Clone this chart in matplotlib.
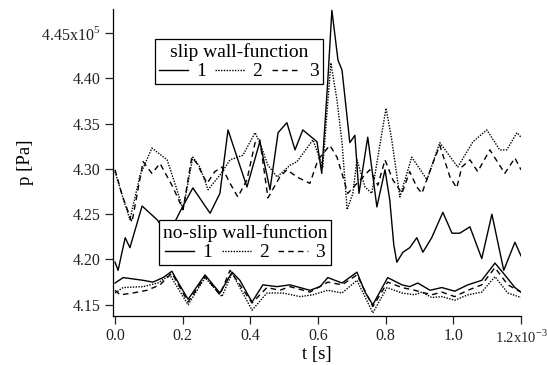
import matplotlib
matplotlib.use('Agg')
import matplotlib.pyplot as plt
from matplotlib.ticker import FixedLocator, FuncFormatter
from matplotlib.lines import Line2D

plt.rcParams['font.family'] = ['Liberation Serif', 'DejaVu Serif']
plt.rcParams['mathtext.fontset'] = 'custom'
plt.rcParams['mathtext.rm'] = 'Liberation Serif'

# time in ms (axis shows x10^-3 s), pressure in 1e5 Pa
t_slip1 = [0, .009, .030, .044, .080, .124, .157, .198, .230, .281, .310, .334, .390, .428,
           .458, .482, .508, .532, .555, .597, .611, .629, .641, .659, .671, .694, .709, .721,
           .747, .774, .798, .812, .824, .833, .851, .871, .892, .910, .936, .969, .996,
           1.019, 1.049, 1.084, 1.114, 1.149, 1.182, 1.2]
p_slip1 = [4.197, 4.188, 4.224, 4.213, 4.259, 4.244, 4.227, 4.257, 4.279, 4.251, 4.273, 4.343,
           4.280, 4.330, 4.277, 4.340, 4.351, 4.321, 4.343, 4.330, 4.295, 4.398, 4.475, 4.420,
           4.409, 4.329, 4.337, 4.273, 4.335, 4.258, 4.299, 4.266, 4.216, 4.197, 4.208, 4.213,
           4.224, 4.208, 4.224, 4.252, 4.229, 4.229, 4.236, 4.201, 4.250, 4.188, 4.219, 4.204]

t_slip2 = [0, .021, .044, .074, .109, .154, .183, .201, .230, .251, .275, .310, .340, .378,
           .414, .428, .452, .479, .517, .538, .585, .614, .638, .656, .671, .686, .703, .715,
           .739, .759, .801, .818, .842, .877, .922, .960, 1.013, 1.058, 1.099, 1.137, 1.158,
           1.188, 1.2]
p_slip2 = [4.297, 4.271, 4.244, 4.293, 4.323, 4.310, 4.277, 4.255, 4.313, 4.302, 4.277, 4.293,
           4.310, 4.315, 4.340, 4.329, 4.304, 4.291, 4.304, 4.308, 4.332, 4.302, 4.417, 4.376,
           4.329, 4.255, 4.273, 4.310, 4.280, 4.273, 4.367, 4.332, 4.269, 4.313, 4.288, 4.329,
           4.302, 4.330, 4.343, 4.321, 4.321, 4.340, 4.335]

t_slip3 = [0, .021, .050, .083, .109, .133, .171, .201, .227, .242, .272, .295, .316, .340,
           .363, .390, .414, .428, .452, .487, .508, .538, .576, .600, .635, .656, .674, .688,
           .715, .753, .777, .798, .821, .848, .871, .892, .907, .939, .960, .990, 1.010,
           1.025, 1.049, 1.072, 1.108, 1.152, 1.182, 1.2]
p_slip3 = [4.299, 4.271, 4.241, 4.308, 4.295, 4.306, 4.280, 4.255, 4.313, 4.306, 4.284, 4.297,
           4.302, 4.284, 4.269, 4.288, 4.329, 4.332, 4.268, 4.291, 4.299, 4.291, 4.284, 4.310,
           4.326, 4.313, 4.291, 4.273, 4.284, 4.299, 4.282, 4.310, 4.288, 4.273, 4.297, 4.280,
           4.273, 4.306, 4.326, 4.291, 4.279, 4.302, 4.310, 4.297, 4.321, 4.295, 4.312, 4.299]

t_noslip1 = [0, .024, .083, .112, .142, .168, .186, .216, .266, .310, .346, .369, .405, .437,
             .479, .517, .576, .606, .629, .671, .715, .739, .762, .806, .848, .871, .895,
             .931, .966, 1.004, 1.043, 1.084, 1.123, 1.152, 1.182, 1.2]
p_noslip1 = [4.174, 4.180, 4.177, 4.175, 4.180, 4.187, 4.175, 4.156, 4.183, 4.163, 4.186,
             4.177, 4.153, 4.172, 4.170, 4.172, 4.166, 4.170, 4.180, 4.174, 4.186, 4.164,
             4.150, 4.180, 4.172, 4.170, 4.174, 4.166, 4.169, 4.165, 4.172, 4.177, 4.196,
             4.183, 4.169, 4.164]

t_noslip2 = [0, .024, .083, .127, .162, .216, .266, .316, .346, .405, .449, .496, .547, .585,
             .629, .671, .715, .762, .804, .848, .886, .907, .936, .966, 1.004, 1.043, 1.084,
             1.123, 1.161, 1.2]
p_noslip2 = [4.163, 4.169, 4.170, 4.174, 4.183, 4.150, 4.180, 4.159, 4.185, 4.144, 4.163,
             4.163, 4.159, 4.161, 4.166, 4.163, 4.177, 4.141, 4.169, 4.163, 4.161, 4.164,
             4.158, 4.159, 4.155, 4.161, 4.164, 4.181, 4.163, 4.158]

t_noslip3 = [0, .015, .053, .095, .133, .168, .216, .266, .310, .340, .405, .449, .487, .517,
             .576, .629, .671, .715, .762, .806, .848, .886, .936, .966, 1.004, 1.043, 1.084,
             1.123, 1.161, 1.2]
p_noslip3 = [4.166, 4.161, 4.163, 4.166, 4.172, 4.185, 4.153, 4.181, 4.161, 4.188, 4.152,
             4.169, 4.166, 4.170, 4.164, 4.175, 4.172, 4.183, 4.148, 4.175, 4.169, 4.166,
             4.161, 4.164, 4.159, 4.166, 4.172, 4.191, 4.172, 4.164]

xticks = [0.0, 0.2, 0.4, 0.6, 0.8, 1.0, 1.2]
yticks = [4.15, 4.20, 4.25, 4.30, 4.35, 4.40, 4.45]

styles = {'1': '-', '2': (0, (1, 1)), '3': (0, (4, 3))}

fig = plt.figure(figsize=(5.47, 3.65), dpi=100)
ax = fig.add_axes([113 / 547, 1 - 316 / 365, 408 / 547, 307 / 365])

ax.plot(t_slip1, p_slip1, color='k', lw=1, ls=styles['1'])
ax.plot(t_slip2, p_slip2, color='k', lw=1, ls=styles['2'])
ax.plot(t_slip3, p_slip3, color='k', lw=1, ls=styles['3'])
ax.plot(t_noslip1, p_noslip1, color='k', lw=1, ls=styles['1'])
ax.plot(t_noslip2, p_noslip2, color='k', lw=1, ls=styles['2'])
ax.plot(t_noslip3, p_noslip3, color='k', lw=1, ls=styles['3'])

ax.set_xlim(-0.006, 1.2)
ax.set_ylim(4.1376, 4.4765)
for s in ['top', 'right']:
    ax.spines[s].set_visible(False)
for s in ['left', 'bottom']:
    ax.spines[s].set_linewidth(0.9)

ax.xaxis.set_major_locator(FixedLocator(xticks))
ax.yaxis.set_major_locator(FixedLocator(yticks))
ax.xaxis.set_major_formatter(FuncFormatter(
    lambda v, pos: '1.2x10$^{-3}$' if abs(v - 1.2) < 1e-9 else f'{v:.1f}'))
ax.yaxis.set_major_formatter(FuncFormatter(
    lambda v, pos: '4.45x10$^{5}$' if abs(v - 4.45) < 1e-9 else f'{v:.2f}'))
ax.tick_params(direction='out', length=6, width=0.9, labelsize=11.5, colors='#222222', pad=3)
for lab in ax.get_xticklabels():
    if 'x10' in lab.get_text():
        lab.set_fontsize(10.5)

ax.set_xlabel('t [s]', fontsize=13.5, labelpad=0)
ax.set_ylabel('p [Pa]', fontsize=13.5, labelpad=5)


def make_legend(title, x0, y0):
    handles = [Line2D([], [], color='k', lw=1, ls=styles[k]) for k in ['1', '2', '3']]
    leg = ax.legend(handles, ['1', '2', '3'], title=title, ncol=3, loc='upper left',
                    bbox_to_anchor=(x0 / 547, 1 - y0 / 365), bbox_transform=fig.transFigure,
                    borderaxespad=0, fontsize=14, title_fontsize=14, frameon=True,
                    fancybox=False, framealpha=1, edgecolor='k', handlelength=1.5,
                    handletextpad=0.4, columnspacing=0.5, borderpad=0.2, labelspacing=0.1)
    leg.get_frame().set_linewidth(0.9)
    leg.set_zorder(5)
    return leg


leg1 = make_legend('slip wall-function', 155, 39)
ax.add_artist(leg1)
make_legend('no-slip wall-function', 159, 220)

fig.savefig('out.png', dpi=100)
